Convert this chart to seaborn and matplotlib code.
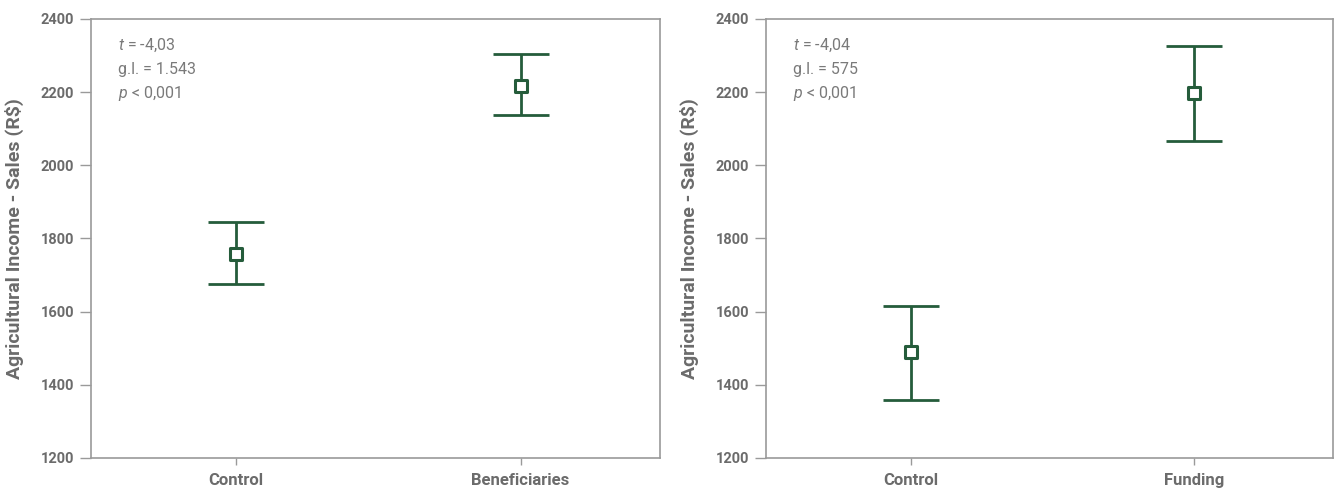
import matplotlib
matplotlib.use("Agg")
import matplotlib.pyplot as plt
import seaborn as sns
import numpy as np

sns.set_theme(style="white")
plt.rcParams['font.family'] = ['Roboto', 'DejaVu Sans']
plt.rcParams['mathtext.fontset'] = 'custom'
plt.rcParams['mathtext.rm'] = 'Roboto'
plt.rcParams['mathtext.it'] = 'Roboto:italic'

# Dados (média e intervalo)
groups_left = ["Control", "Beneficiaries"]
mean_left = [1758, 2217]
low_left = [1676, 2138]
high_left = [1845, 2305]
stats_left = ["$t$ = -4,03", "g.l. = 1.543", "$p$ < 0,001"]

groups_right = ["Control", "Funding"]
mean_right = [1490, 2198]
low_right = [1359, 2067]
high_right = [1616, 2326]
stats_right = ["$t$ = -4,04", "g.l. = 575", "$p$ < 0,001"]

y_ticks = [1200, 1400, 1600, 1800, 2000, 2200, 2400]

GREEN = "#255c3b"
GRAY = "#6b6b6b"
SPINE = "#9a9a9a"

fig = plt.figure(figsize=(13.37, 4.93), dpi=100)
ax1 = fig.add_axes([0.068, 0.071, 0.4256, 0.8905])
ax2 = fig.add_axes([0.573, 0.071, 0.424, 0.8905])


def draw_panel(ax, groups, means, lows, highs, stats):
    means = np.array(means)
    yerr = [means - np.array(lows), np.array(highs) - means]
    ax.errorbar(x=np.arange(len(groups)), y=means, yerr=yerr, fmt='none',
                ecolor=GREEN, elinewidth=2.0, capsize=20.5, capthick=2.0, zorder=2)
    sns.scatterplot(x=np.arange(len(groups)), y=means, marker='s', s=70,
                    facecolor='white', edgecolor=GREEN, linewidth=2.2, zorder=3, ax=ax)
    ax.set_xlim(-0.51, len(groups) - 0.51)
    ax.set_ylim(1200, 2400)
    ax.set_yticks(y_ticks)
    ax.set_xticks(np.arange(len(groups)))
    ax.set_xticklabels(groups)
    for s in ax.spines.values():
        s.set_color(SPINE)
        s.set_linewidth(1.2)
    ax.tick_params(axis='y', which='major', left=True, length=8, width=1, color=SPINE,
                   labelsize=10.5, labelcolor=GRAY, pad=4)
    ax.tick_params(axis='x', which='major', bottom=True, length=5, width=1, color=SPINE,
                   labelsize=12, labelcolor=GRAY, pad=6)
    for lab in ax.get_xticklabels() + ax.get_yticklabels():
        lab.set_fontweight('bold')
    ax.set_ylabel("Agricultural Income - Sales (R\\$)", fontsize=14, fontweight='bold',
                  color=GRAY, labelpad=12)
    ax.set_xlabel("")
    for i, line in enumerate(stats):
        ax.text(0.047, 0.94 - i * 0.055, line, transform=ax.transAxes, fontsize=11.5,
                color="#7a7a7a", va='center', ha='left')


draw_panel(ax1, groups_left, mean_left, low_left, high_left, stats_left)
draw_panel(ax2, groups_right, mean_right, low_right, high_right, stats_right)

fig.savefig("out.png", dpi=100)
